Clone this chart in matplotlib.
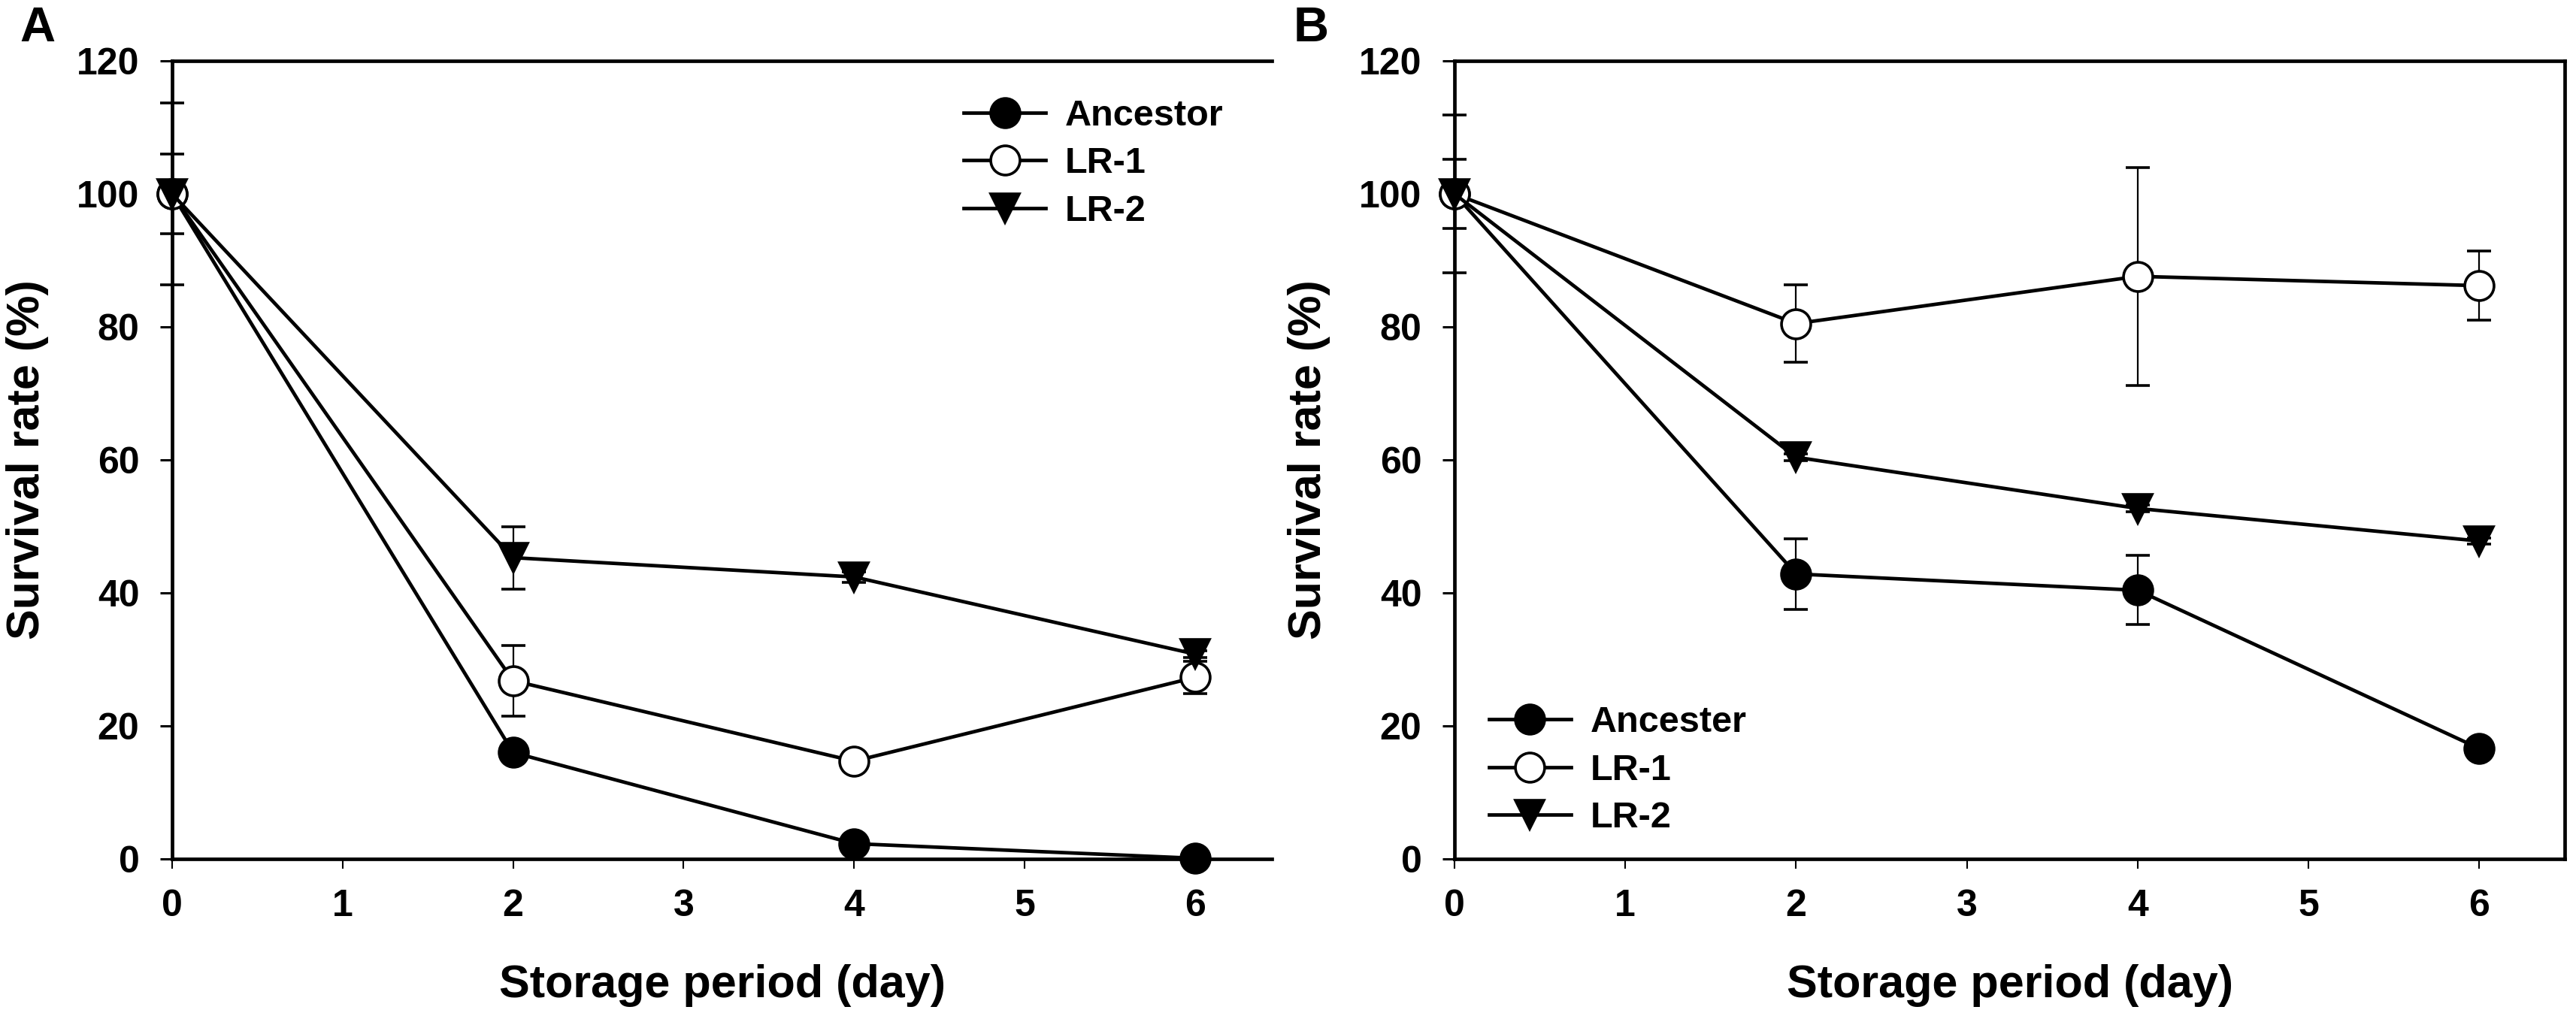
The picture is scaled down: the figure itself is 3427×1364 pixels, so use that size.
import numpy as np
import matplotlib
matplotlib.use("Agg")
import matplotlib.pyplot as plt

plt.rcParams['font.family'] = ['Liberation Sans', 'DejaVu Sans']
plt.rcParams['font.weight'] = 'bold'

days = [0, 2, 4, 6]

# panel A
a_ancestor = [100, 16.0, 2.3, 0.1]
a_ancestor_err = [13.7, 1.2, 0.8, 0.3]
a_lr1 = [100, 26.8, 14.7, 27.3]
a_lr1_err = [6.0, 5.3, 1.0, 2.4]
a_lr2 = [100, 45.3, 42.4, 30.8]
a_lr2_err = [0.5, 4.7, 0.8, 0.5]
a_labels = ['Ancestor', 'LR-1', 'LR-2']

# panel B
b_ancestor = [100, 42.85, 40.4, 16.6]
b_ancestor_err = [11.9, 5.3, 5.2, 0.5]
b_lr1 = [100, 80.5, 87.6, 86.2]
b_lr1_err = [5.2, 5.85, 16.4, 5.2]
b_lr2 = [100, 60.4, 52.7, 47.8]
b_lr2_err = [0.5, 0.5, 0.5, 0.5]
b_labels = ['Ancester', 'LR-1', 'LR-2']

W, H = 3427, 1364
fig = plt.figure(figsize=(W / 100, H / 100), dpi=100)

styles = [dict(marker='o', mfc='black'),
          dict(marker='o', mfc='white'),
          dict(marker='v', mfc='black')]


def panel(rect, xmax, series, errs, labels, right_spine, leg_loc, leg_anchor):
    ax = fig.add_axes(rect)
    handles = []
    for i, (vals, err, lab) in enumerate(zip(series, errs, labels)):
        cont = ax.errorbar(days, vals, yerr=err, color='black', lw=3.4,
                           ms=28, mec='black', mew=2.6, capsize=11.5,
                           elinewidth=1.6, capthick=2.0, label=lab,
                           **styles[i])
        line, caps, bars = cont.lines
        line.set_zorder(3 + i)
        line.set_clip_on(False)
        for c in caps:
            c.set_zorder(2)
            c.set_clip_on(False)
        for b in bars:
            b.set_zorder(2)
            b.set_clip_on(False)
        handles.append(line)
    ax.set_xlim(0, xmax)
    ax.set_ylim(0, 120)
    ax.set_xticks(range(0, 7))
    ax.set_yticks(range(0, 121, 20))
    ax.tick_params(axis='y', direction='out', length=11.5, width=2.2, pad=20,
                   labelsize=36)
    ax.tick_params(axis='x', direction='out', length=9, width=1.5, pad=20,
                   labelsize=36)
    ax.spines['right'].set_visible(right_spine)
    for s in ax.spines.values():
        s.set_linewidth(3.4)
    ax.set_xlabel('Storage period (day)', fontsize=44, fontweight='bold')
    ax.set_ylabel('Survival rate (%)', fontsize=44, fontweight='bold')
    ax.xaxis.set_label_coords(0.5, -0.132)
    ax.yaxis.set_label_coords(-0.112, 0.5)
    ax.legend(handles, labels, loc=leg_loc, bbox_to_anchor=leg_anchor,
              frameon=False, fontsize=35, handlelength=2.24,
              handletextpad=0.53, labelspacing=0.38, borderpad=0,
              borderaxespad=0, numpoints=1)
    return ax


ax_a = panel([229 / W, 1 - 1143 / H, 1463 / W, 1062 / H], 6.45,
             [a_ancestor, a_lr1, a_lr2],
             [a_ancestor_err, a_lr1_err, a_lr2_err], a_labels,
             False, 'upper left', (0.72, 0.952))
ax_b = panel([1935 / W, 1 - 1143 / H, 1477 / W, 1062 / H], 6.5,
             [b_ancestor, b_lr1, b_lr2],
             [b_ancestor_err, b_lr1_err, b_lr2_err], b_labels,
             True, 'lower left', (0.031, 0.030))

fig.text(26 / W, 1 - 55 / H, 'A', fontsize=47, fontweight='bold',
         va='baseline', ha='left')
fig.text(1721 / W, 1 - 55 / H, 'B', fontsize=47, fontweight='bold',
         va='baseline', ha='left')

fig.savefig('out.png', dpi=100)
